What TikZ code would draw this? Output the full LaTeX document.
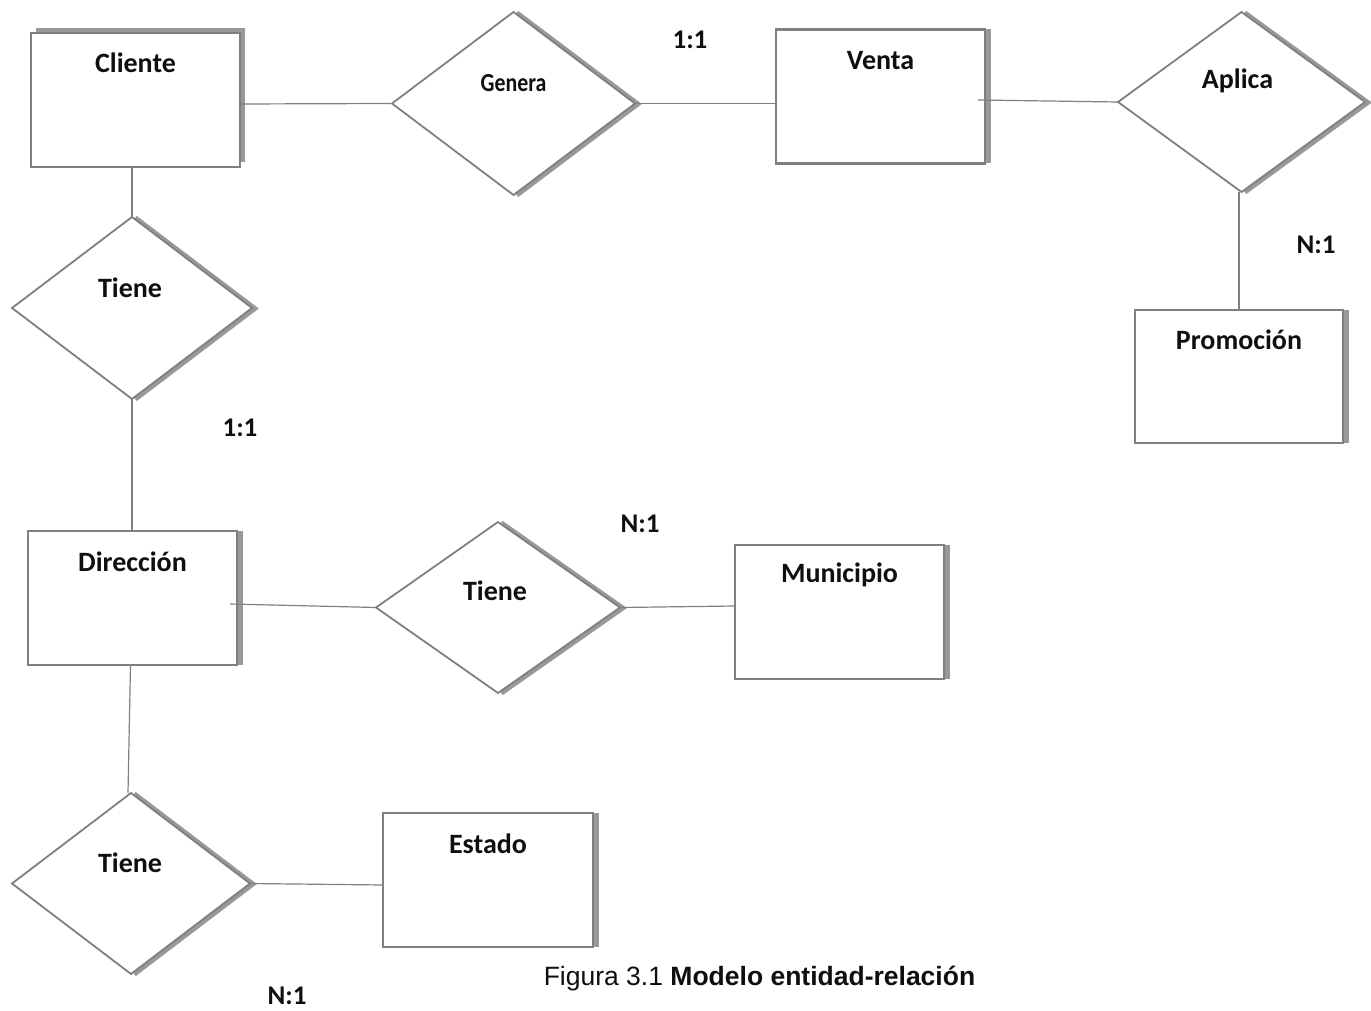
\documentclass[tikz,border=0pt]{standalone}
\usepackage{fontspec}
\newfontfamily\calib{Carlito}
\newfontfamily\arial{Liberation Sans}
\usetikzlibrary{shapes.geometric,backgrounds,calc}
\definecolor{linegray}{HTML}{808080}
\definecolor{shadowgray}{HTML}{999999}
\definecolor{txt}{HTML}{0F0F0F}
\begin{document}
\begin{tikzpicture}[x=1pt,y=-1pt,
  entity/.style={draw=linegray, line width=2.5pt, fill=white, rectangle, outer sep=0pt,
    minimum width=209pt, minimum height=134pt, inner sep=0pt},
  rel/.style={draw=linegray, line width=1.8pt, fill=white, diamond, inner sep=0pt, outer sep=0pt},
  conn/.style={draw=linegray, line width=1.2pt},
  shadowline/.style={draw=shadowgray, line width=5.5pt},
  dshadow/.style={draw=shadowgray, line width=4pt},
  ttl/.style={font=\calib\bfseries\fontsize{28}{30}\selectfont, text=txt},
  card/.style={font=\calib\bfseries\fontsize{27}{30}\selectfont, text=txt}]
\useasboundingbox (0,0) rectangle (1371,1011);

% entities
\node[entity, label={[ttl,yshift=37pt]center:Cliente}] (cli) at (135.5,100) {};
\node[entity, label={[ttl,yshift=35.5pt]center:Venta}] (ven) at (880.5,96.5) {};
\node[entity, minimum width=208pt, minimum height=133pt, label={[ttl,yshift=36.5pt]center:Promoción}] (pro) at (1239,376.5) {};
\node[entity, label={[ttl,yshift=36pt]center:Dirección}] (dir) at (132.5,598) {};
\node[entity, label={[ttl,yshift=37pt]center:Municipio}] (mun) at (839.5,612) {};
\node[entity, minimum width=210pt, label={[ttl,yshift=36pt]center:Estado}] (est) at (488,880) {};

% relationships
\node[rel, minimum width=243pt, minimum height=183pt,
  label={[ttl,yshift=20pt]center:{\fontsize{26}{28}\selectfont\scalebox{0.84}[1]{Genera}}}] (gen) at (513.5,103.5) {};
\node[rel, minimum width=247pt, minimum height=180pt, label={[ttl,yshift=21pt,xshift=-4pt]center:Aplica}] (apl) at (1241.5,102) {};
\node[rel, minimum width=240pt, minimum height=182pt, label={[ttl,yshift=20pt,xshift=-2pt]center:Tiene}] (ti1) at (132,308) {};
\node[rel, minimum width=244pt, minimum height=171pt, label={[ttl,yshift=17pt,xshift=-3pt]center:Tiene}] (ti2) at (498,607.5) {};
\node[rel, minimum width=238pt, minimum height=181pt, label={[ttl,yshift=21pt,xshift=-1pt]center:Tiene}] (ti3) at (131,883.5) {};

% background and shadows
\begin{scope}[on background layer]
  \fill[white] (0,0) rectangle (1371,1011);
  \fill[shadowgray] ($(cli.north west)+(5,-5)$) rectangle ($(cli.south east)+(5,-5)$);
  \foreach \n in {ven,pro,dir,mun,est}{
    \draw[shadowline] ($(\n.north east)+(3,0)$) -- ($(\n.south east)+(3,0)$);
  }
  \foreach \n in {gen,apl,ti1,ti2,ti3}{
    \draw[dshadow] ($(\n.north)+(3.5,0.5)$) -- ($(\n.east)+(3.5,0.5)$) -- ($(\n.south)+(3.5,0.5)$);
  }
\end{scope}

% connectors
\draw[conn] ($(cli.east)+(0,4)$) -- (gen.west);
\draw[conn] (gen.east) -- ($(ven.west)+(0,7)$);
\draw[conn] ($(ven.east)+(-7,3.5)$) -- (apl.west);
\draw[conn] ($(apl.south)+(-2.5,0)$) -- (pro.north);
\draw[conn] ($(cli.south)+(-3.5,0)$) -- (ti1.north);
\draw[conn] (ti1.south) -- ($(dir.north)+(-0.5,0)$);
\draw[conn] ($(dir.east)+(-7,6)$) -- (ti2.west);
\draw[conn] (ti2.east) -- ($(mun.west)+(0,-6)$);
\draw[conn] ($(dir.south)+(-2,0)$) -- ($(ti3.north)+(-3,0)$);
\draw[conn] (ti3.east) -- ($(est.west)+(0,5)$);

% cardinalities
\node[card] (c1) at (690,40) {1:1};
\node[card] (c2) at (1316,245) {N:1};
\node[card] (c3) at (240,428) {1:1};
\node[card] (c4) at (640,524) {N:1};
\node[card] (c5) at (287,996) {N:1};

% caption
\node[font=\arial\fontsize{26.5}{30}\selectfont, text=txt, anchor=base] (cap) at (759.5,985)
  {Figura 3.1 \textbf{Modelo entidad-relación}};
\end{tikzpicture}
\end{document}
